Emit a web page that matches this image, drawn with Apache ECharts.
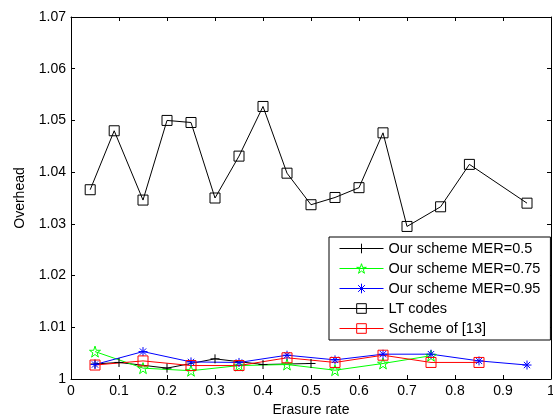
<!DOCTYPE html>
<html>
<head>
<meta charset="utf-8">
<script src="https://cdn.jsdelivr.net/npm/echarts@6/dist/echarts.min.js"></script>
<style>
html,body{margin:0;padding:0;background:#fff;}
#c{width:553px;height:414px;}
</style>
</head>
<body>
<div id="c"></div>
<script>
// ---- data ----
const xTicks = [0, 0.1, 0.2, 0.3, 0.4, 0.5, 0.6, 0.7, 0.8, 0.9, 1];
const yTicks = [1, 1.01, 1.02, 1.03, 1.04, 1.05, 1.06, 1.07];

const mer05X = [0.05, 0.1, 0.2, 0.3, 0.4, 0.5];
const mer05Y = [1.0029, 1.0032, 1.0021, 1.0039, 1.0028, 1.0030];

const mer075X = [0.05, 0.15, 0.25, 0.35, 0.45, 0.55, 0.65, 0.75];
const mer075Y = [1.0053, 1.0021, 1.0016, 1.0026, 1.0028, 1.0017, 1.0030, 1.0045];

const mer095X = [0.05, 0.15, 0.25, 0.35, 0.45, 0.55, 0.65, 0.75, 0.85, 0.95];
const mer095Y = [1.0028, 1.0053, 1.0033, 1.0032, 1.0046, 1.0037, 1.0048, 1.0048, 1.0035, 1.0027];

const ltX = [0.04, 0.09, 0.15, 0.2, 0.25, 0.3, 0.35, 0.4, 0.45, 0.5, 0.55, 0.6, 0.65, 0.7, 0.77, 0.83, 0.95];
const ltY = [1.0366, 1.0480, 1.0346, 1.0500, 1.0496, 1.0350, 1.0431, 1.0527, 1.0398, 1.0337, 1.0351, 1.0370, 1.0476, 1.0295, 1.0333, 1.0415, 1.0340];

const s13X = [0.05, 0.15, 0.25, 0.35, 0.45, 0.55, 0.65, 0.75, 0.85];
const s13Y = [1.0027, 1.0035, 1.0026, 1.0026, 1.0041, 1.0032, 1.0046, 1.0032, 1.0032];

const names = ['Our scheme MER=0.5', 'Our scheme MER=0.75', 'Our scheme MER=0.95', 'LT codes', 'Scheme of [13]'];
const xName = 'Erasure rate';
const yName = 'Overhead';

// ---- helpers ----
const zip = (xs, ys) => xs.map((x, i) => [x, ys[i]]);
const FONT = 'Liberation Sans, Arial, sans-serif';
const PLUS = 'path://M5,0L5,10M0,5L10,5';
const STAR = 'path://M5,0L6.123,3.455L9.755,3.455L6.816,5.59L7.939,9.045L5,6.91L2.061,9.045L3.184,5.59L0.245,3.455L3.877,3.455Z';
const AST = 'path://M5,0L5,10M0,5L10,5M1.5,1.5L8.5,8.5M8.5,1.5L1.5,8.5';

function mk(name, xs, ys, color, symbol, size) {
  return {
    name: name,
    type: 'line',
    data: zip(xs, ys),
    symbol: symbol,
    symbolSize: size,
    showAllSymbol: true,
    animation: false,
    lineStyle: { color: color, width: 1 },
    itemStyle: { color: 'rgba(0,0,0,0)', borderColor: color, borderWidth: 1 },
    emphasis: { disabled: true }
  };
}

const chart = echarts.init(document.getElementById('c'), null, { renderer: 'canvas' });
const fmt = v => String(parseFloat(v.toFixed(2)));
const axisCommon = {
  axisLine: { show: true, onZero: false, lineStyle: { color: '#000', width: 1 } },
  axisTick: { show: true, inside: true, length: 4, lineStyle: { color: '#000' } },
  splitLine: { show: false }
};

chart.setOption({
  backgroundColor: '#fff',
  animation: false,
  textStyle: { fontFamily: FONT },
  grid: { left: 71, right: 2, top: 17, bottom: 35, containLabel: false, outerBoundsMode: 'none' },
  legend: {
    orient: 'vertical',
    left: 329,
    top: 237,
    padding: [4, 10, 4, 10],
    itemGap: 5,
    itemWidth: 44,
    itemHeight: 12,
    backgroundColor: '#fff',
    borderColor: '#000',
    borderWidth: 1,
    borderRadius: 0,
    selectedMode: false,
    data: names,
    lineStyle: { width: 1 },
    itemStyle: { color: 'rgba(0,0,0,0)', borderWidth: 1 },
    textStyle: { fontFamily: FONT, fontSize: 14.5, color: '#000' }
  },
  xAxis: [
    Object.assign({
      type: 'value', min: xTicks[0], max: xTicks[xTicks.length - 1], interval: 0.1,
      position: 'bottom',
      name: xName, nameLocation: 'middle', nameGap: 22,
      nameTextStyle: { fontFamily: FONT, fontSize: 14, color: '#000' },
      axisLabel: { color: '#000', fontFamily: FONT, fontSize: 14, margin: 5, formatter: fmt }
    }, axisCommon),
    Object.assign({
      type: 'value', min: xTicks[0], max: xTicks[xTicks.length - 1], interval: 0.1,
      position: 'top', axisLabel: { show: false }
    }, axisCommon)
  ],
  yAxis: [
    Object.assign({
      type: 'value', min: yTicks[0], max: yTicks[yTicks.length - 1], interval: 0.01,
      position: 'left',
      name: yName, nameLocation: 'middle', nameGap: 44,
      nameTextStyle: { fontFamily: FONT, fontSize: 14, color: '#000' },
      axisLabel: { color: '#000', fontFamily: FONT, fontSize: 14, margin: 5, formatter: fmt }
    }, axisCommon),
    Object.assign({
      type: 'value', min: yTicks[0], max: yTicks[yTicks.length - 1], interval: 0.01,
      position: 'right', axisLabel: { show: false }
    }, axisCommon)
  ],
  series: [
    mk(names[0], mer05X, mer05Y, '#000000', PLUS, 9),
    mk(names[1], mer075X, mer075Y, '#00ff00', STAR, 11),
    mk(names[2], mer095X, mer095Y, '#0000ff', AST, 9),
    mk(names[3], ltX, ltY, '#000000', 'rect', 10),
    mk(names[4], s13X, s13Y, '#ff0000', 'rect', 10)
  ]
});
</script>
</body>
</html>
